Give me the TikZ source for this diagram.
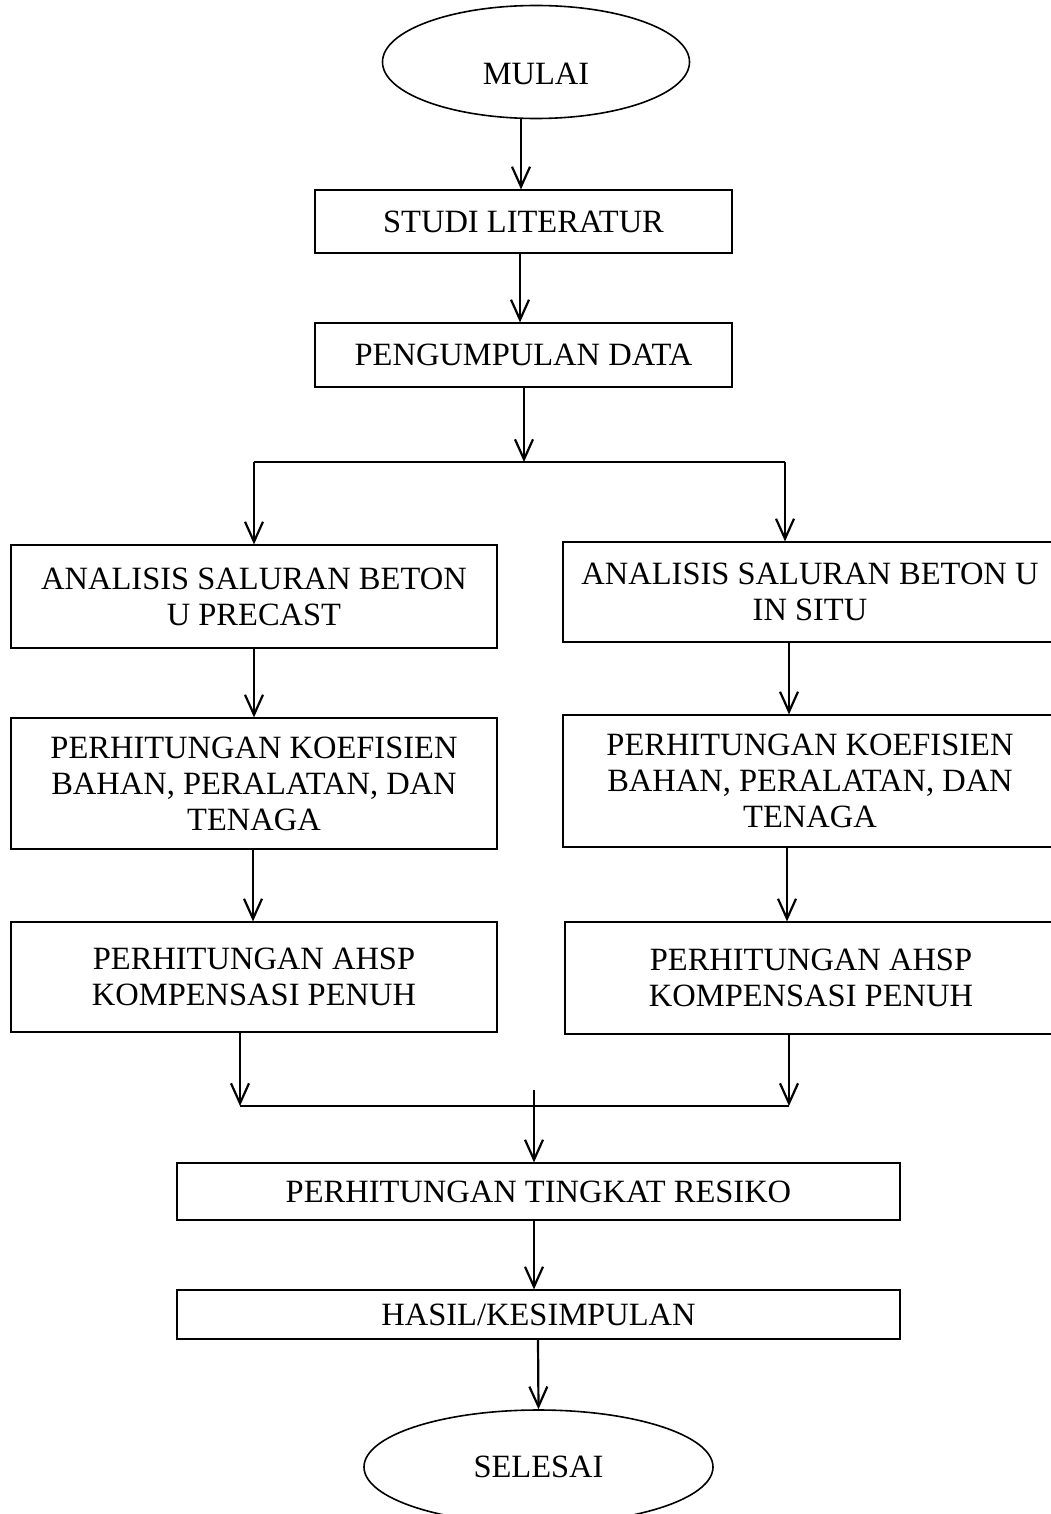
\documentclass[tikz,border=0pt]{standalone}
\usepackage{fontspec}
\setmainfont{Liberation Serif}
\usetikzlibrary{arrows.meta,shapes.geometric}

\begin{document}
\begin{tikzpicture}[x=1pt,y=-1pt,font=\fontsize{32.5}{36}\selectfont]
        \tikzstyle{box}=[draw,rectangle,line width=1.2pt,inner sep=0pt,align=center]
        \tikzstyle{term}=[draw,ellipse,line width=1.6pt,inner sep=0pt]
        \tikzstyle{flow}=[line width=2.2pt,-{Straight Barb[length=20pt,width=18pt,line width=2.2pt]}]
        \tikzstyle{bar}=[line width=1.4pt]

        \useasboundingbox (0,0) rectangle (1051,1514);

        \node[term,minimum width=307pt,minimum height=113pt,text height=46pt] (mulai) at (536,62) {MULAI};
        \node[box,minimum width=417pt,minimum height=63pt]   (studi)   at (523.5,221.5) {STUDI LITERATUR};
        \node[box,minimum width=417pt,minimum height=64pt]   (data)    at (523.5,355)   {PENGUMPULAN DATA};
        \node[box,minimum width=486pt,minimum height=103pt]  (pre)     at (254,596.5)   {ANALISIS SALURAN BETON\\U PRECAST};
        \node[box,minimum width=494pt,minimum height=100pt]  (sit)     at (810,592)     {ANALISIS SALURAN BETON U\\IN SITU};
        \node[box,minimum width=486pt,minimum height=131pt]  (koefL)   at (254,783.5)   {PERHITUNGAN KOEFISIEN\\BAHAN, PERALATAN, DAN\\TENAGA};
        \node[box,minimum width=494pt,minimum height=132pt]  (koefR)   at (810,781)     {PERHITUNGAN KOEFISIEN\\BAHAN, PERALATAN, DAN\\TENAGA};
        \node[box,minimum width=486pt,minimum height=110pt]  (ahspL)   at (254,977)     {PERHITUNGAN AHSP\\KOMPENSASI PENUH};
        \node[box,minimum width=492pt,minimum height=112pt]  (ahspR)   at (811,978)     {PERHITUNGAN AHSP\\KOMPENSASI PENUH};
        \node[box,minimum width=723pt,minimum height=57pt]   (resiko)  at (538.5,1191.5){PERHITUNGAN TINGKAT RESIKO};
        \node[box,minimum width=723pt,minimum height=49pt]   (hasil)   at (538.5,1314.5){HASIL/KESIMPULAN};
        \node[term,minimum width=349pt,minimum height=114pt] (selesai) at (538.5,1467)  {SELESAI};

        % percabangan
        \coordinate (split)  at (524,462);
        \coordinate (splitL) at (254,462);
        \coordinate (splitR) at (785,462);
        % penggabungan
        \coordinate (joinL)  at (240,1106);
        \coordinate (joinR)  at (789,1106);
        \coordinate (joinT)  at (534,1090);

        \draw[flow] (mulai.south -| 521,0) -- (studi.north -| 521,0);
        \draw[flow] (studi.south -| 520,0) -- (data.north -| 520,0);
        \draw[flow] (data.south -| split) -- (split);
        \draw[bar]  (splitL) -- (splitR);
        \draw[flow] (splitL) -- (pre.north);
        \draw[flow] (splitR) -- (splitR |- sit.north);
        \draw[flow] (pre.south) -- (koefL.north);
        \draw[flow] (sit.south -| 789,0) -- (koefR.north -| 789,0);
        \draw[flow] (koefL.south -| 253,0) -- (ahspL.north -| 253,0);
        \draw[flow] (koefR.south -| 787,0) -- (ahspR.north -| 787,0);
        \draw[flow] (ahspL.south -| joinL) -- (joinL);
        \draw[flow] (ahspR.south -| joinR) -- (joinR);
        \draw[bar]  (joinL) -- (joinR);
        \draw[flow] (joinT) -- (joinT |- resiko.north);
        \draw[flow] (resiko.south -| joinT) -- (hasil.north -| joinT);
        \draw[flow] (hasil.south -| 538,0) -- (selesai.north);
\end{tikzpicture}
\end{document}
